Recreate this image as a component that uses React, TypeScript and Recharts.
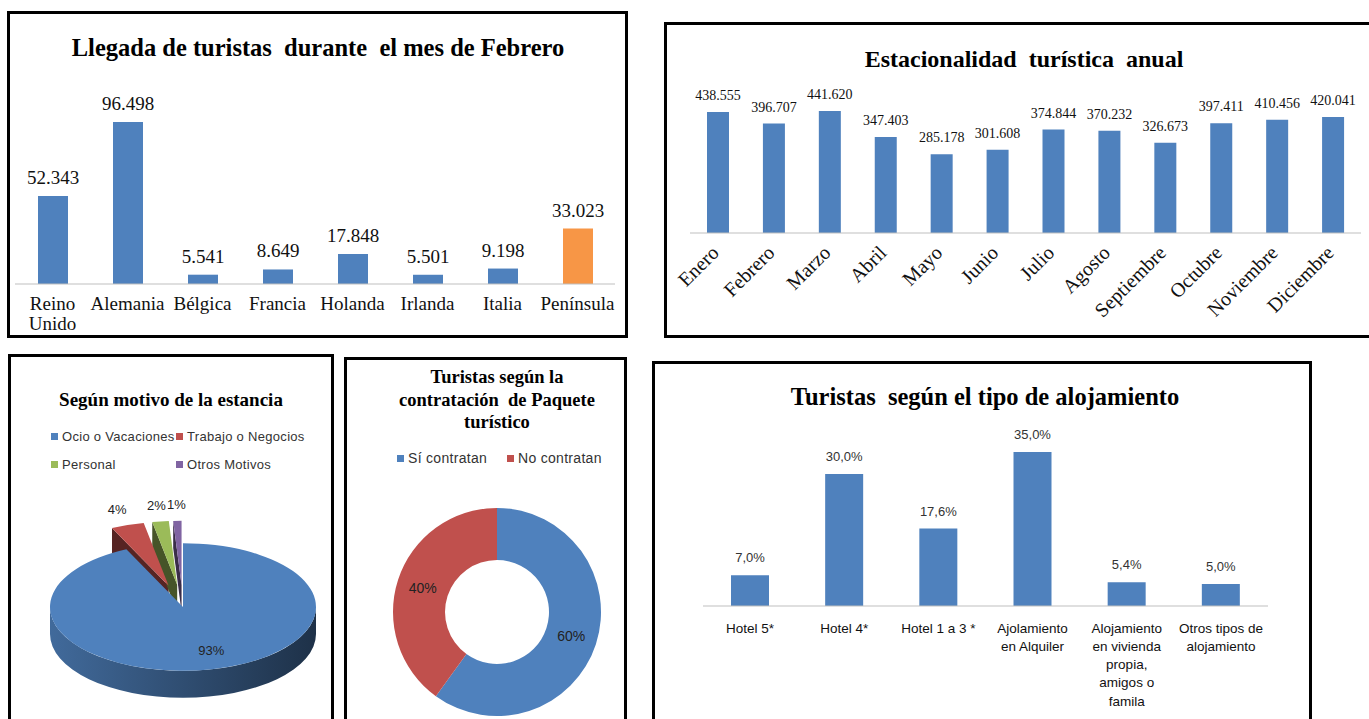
import React from 'react'
import { BarChart, Bar, XAxis, YAxis, Cell, LabelList, PieChart, Pie, Legend } from 'recharts'

// Llegada de turistas durante el mes de Febrero
const febCountries = ['Reino Unido', 'Alemania', 'Bélgica', 'Francia', 'Holanda', 'Irlanda', 'Italia', 'Península']
const febArrivals = [52343, 96498, 5541, 8649, 17848, 5501, 9198, 33023]
const highlighted = 'Península'

// Estacionalidad turística anual
const months = ['Enero', 'Febrero', 'Marzo', 'Abril', 'Mayo', 'Junio', 'Julio', 'Agosto', 'Septiembre', 'Octubre', 'Noviembre', 'Diciembre']
const monthlyArrivals = [438555, 396707, 441620, 347403, 285178, 301608, 374844, 370232, 326673, 397411, 410456, 420041]

// Según motivo de la estancia
const reasons = ['Ocio o Vacaciones', 'Trabajo o Negocios', 'Personal', 'Otros Motivos']
const reasonShare = [93, 4, 2, 1]

// Contratación de paquete turístico
const packageOptions = ['Sí contratan', 'No contratan']
const packageShare = [60, 40]

// Tipo de alojamiento
const lodgingTypes = ['Hotel 5*', 'Hotel 4*', 'Hotel 1 a 3 *', 'Ajolamiento en Alquiler', 'Alojamiento en vivienda propia, amigos o famila', 'Otros tipos de alojamiento']
const lodgingShare = [7.0, 30.0, 17.6, 35.0, 5.4, 5.0]

const BLUE = '#4f81bd'
const ORANGE = '#f79646'
const RED = '#c0504d'
const GREEN = '#9bbb59'
const PURPLE = '#8064a2'
const reasonColors = [BLUE, RED, GREEN, PURPLE]
const packageColors = [BLUE, RED]

const SERIF = '"Liberation Serif", "Times New Roman", serif'
const SANS = '"Liberation Sans", Arial, sans-serif'
const AXIS = '#bfbfbf'
const NO_MARGIN = { top: 0, right: 0, bottom: 0, left: 0 }

const febData = febCountries.map((country, i) => ({ country, arrivals: febArrivals[i] }))
const monthData = months.map((month, i) => ({ month, arrivals: monthlyArrivals[i] }))
const reasonData = reasons.map((name, i) => ({ name, value: reasonShare[i] }))
const packageData = packageOptions.map((name, i) => ({ name, value: packageShare[i] }))
const lodgingData = lodgingTypes.map((type, i) => ({ type, share: lodgingShare[i] }))

const fmtThousands = (v: any) => String(v).replace(/\B(?=(\d{3})+(?!\d))/g, '.')
const fmtPct = (v: any) => Number(v).toFixed(1).replace('.', ',') + '%'

const RAD = Math.PI / 180
const TILT = 0.48
const DEPTH = 27
const EXPLODE = 0.35

let measureCtx: CanvasRenderingContext2D | null = null
function wrapWords(text: string, maxWidth: number, font: string) {
  if (!measureCtx) measureCtx = document.createElement('canvas').getContext('2d')
  const ctx = measureCtx!
  ctx.font = font
  const lines: string[] = []
  let line = ''
  for (const word of text.split(' ')) {
    const next = line ? line + ' ' + word : word
    if (line && ctx.measureText(next).width > maxWidth) {
      lines.push(line)
      line = word
    } else {
      line = next
    }
  }
  if (line) lines.push(line)
  return lines
}

function WrapTick(props: any) {
  const { x, y, payload, w, fs, lh, ff, dy } = props
  const lines = wrapWords(String(payload.value), w, `${fs}px ${ff}`)
  return (
    <text x={x} y={y + dy} textAnchor="middle" fontSize={fs} fontFamily={ff} fill="#111">
      {lines.map((l, i) => (
        <tspan key={i} x={x} dy={i === 0 ? '0.71em' : lh}>{l}</tspan>
      ))}
    </text>
  )
}

function MonthTick(props: any) {
  const { x, y, payload } = props
  const ax = x + 2
  const ay = y + 13
  return (
    <text x={ax} y={ay} transform={`rotate(-45, ${ax}, ${ay})`} textAnchor="end"
      fontSize={20} fontFamily={SERIF} fill="#111">
      {payload.value}
    </text>
  )
}

const darken = (hex: string, k: number) => {
  const n = parseInt(hex.slice(1), 16)
  const r = (n >> 16) & 255, g = (n >> 8) & 255, b = n & 255
  return `rgb(${Math.round(r * k)},${Math.round(g * k)},${Math.round(b * k)})`
}

function sliceGeom(props: any) {
  const { cx, cy, outerRadius, midAngle, index } = props
  const rx = outerRadius
  const ry = outerRadius * TILT
  const ox = index > 0 ? EXPLODE * rx * Math.cos(midAngle * RAD) : 0
  const oy = index > 0 ? -EXPLODE * ry * Math.sin(midAngle * RAD) : 0
  const pt = (a: number, d = 0) => [cx + ox + rx * Math.cos(a * RAD), cy + oy - ry * Math.sin(a * RAD) + d]
  return { rx, ry, c: [cx + ox, cy + oy], pt }
}

// side walls of the tilted pie (drawn under the tops)
function PieSide(props: any) {
  const { startAngle, endAngle, fill, index, cx, outerRadius } = props
  const { rx, ry, c, pt } = sliceGeom(props)
  const lo = Math.min(startAngle, endAngle)
  const hi = Math.max(startAngle, endAngle)
  const parts: string[] = []
  for (let k = -2; k <= 2; k++) {
    const a0 = Math.max(lo, -180 + 360 * k)
    const a1 = Math.min(hi, 360 * k)
    if (a1 - a0 > 0.01) {
      parts.push(`M${pt(a1)} A${rx} ${ry} 0 0 1 ${pt(a0)} L${pt(a0, DEPTH)} A${rx} ${ry} 0 0 0 ${pt(a1, DEPTH)} Z`)
    }
  }
  const walls: string[] = []
  if (Math.cos(hi * RAD) < 0) walls.push(`M${c} L${pt(hi)} L${pt(hi, DEPTH)} L${c[0]},${c[1] + DEPTH} Z`)
  if (Math.cos(lo * RAD) > 0) walls.push(`M${c} L${pt(lo)} L${pt(lo, DEPTH)} L${c[0]},${c[1] + DEPTH} Z`)
  const gid = `pie-side-${index}`
  return (
    <g>
      <defs>
        <linearGradient id={gid} gradientUnits="userSpaceOnUse" x1={cx - outerRadius} y1={0} x2={cx + outerRadius} y2={0}>
          <stop offset="0%" stopColor={darken(fill, 0.82)} />
          <stop offset="100%" stopColor={darken(fill, 0.38)} />
        </linearGradient>
      </defs>
      {walls.map((d, i) => <path key={'w' + i} d={d} fill={darken(fill, 0.45)} />)}
      {parts.map((d, i) => <path key={'s' + i} d={d} fill={`url(#${gid})`} />)}
    </g>
  )
}

function PieTop(props: any) {
  const { startAngle, endAngle, fill } = props
  const { rx, ry, c, pt } = sliceGeom(props)
  const large = Math.abs(startAngle - endAngle) > 180 ? 1 : 0
  const sweep = startAngle > endAngle ? 1 : 0
  const d = `M${c} L${pt(startAngle)} A${rx} ${ry} 0 ${large} ${sweep} ${pt(endAngle)} Z`
  return <path d={d} fill={fill} />
}

function tiltedLabel(props: any) {
  const { cx, cy, midAngle, outerRadius, percent } = props
  const big = percent > 0.5
  const f = big ? 0.7 : 1.6
  const x = cx + f * outerRadius * Math.cos(midAngle * RAD) + (big ? 8 : 0)
  const y = cy - f * outerRadius * TILT * Math.sin(midAngle * RAD)
  return (
    <text x={x} y={y} textAnchor="middle" dominantBaseline="central" fontSize={13} fontFamily={SANS} fill="#222">
      {`${Math.round(percent * 100)}%`}
    </text>
  )
}

function donutLabel(props: any) {
  const { cx, cy, midAngle, innerRadius, outerRadius, percent } = props
  const r = (innerRadius + outerRadius) / 2
  const x = cx + r * Math.cos(midAngle * RAD)
  const y = cy - r * Math.sin(midAngle * RAD)
  return (
    <text x={x} y={y} textAnchor="middle" dominantBaseline="central" fontSize={14} fontFamily={SANS} fill="#222">
      {`${Math.round(percent * 100)}%`}
    </text>
  )
}

function GridLegend({ payload, cols, rowHeight, fontSize, order }: any) {
  const items = (payload || [])
    .filter((e: any) => e.type !== 'none')
    .slice()
    .sort((a: any, b: any) => order.indexOf(a.value) - order.indexOf(b.value))
  return (
    <div style={{ display: 'flex', flexWrap: 'wrap', width: cols.reduce((a: number, b: number) => a + b, 0) }}>
      {items.map((e: any, i: number) => (
        <div key={e.value} style={{ width: cols[i % cols.length], height: rowHeight, display: 'flex', alignItems: 'center', fontFamily: SANS, fontSize, color: '#333', letterSpacing: 0.3, whiteSpace: 'nowrap' }}>
          <span style={{ display: 'inline-block', width: 7, height: 7, background: e.color, marginRight: 4 }} />
          {e.value}
        </div>
      ))}
    </div>
  )
}

function Frame({ left, top, width, height }: any) {
  return <div style={{ position: 'absolute', left, top, width, height, border: '3px solid #000', boxSizing: 'border-box' }} />
}

function Title({ left, top, width, size, children }: any) {
  return (
    <div style={{ position: 'absolute', left, top, width, textAlign: 'center', fontFamily: SERIF, fontWeight: 700, fontSize: size, lineHeight: `${Math.round(size * 1.3)}px`, color: '#000' }}>
      {children}
    </div>
  )
}

export default function App() {
  return (
    <div style={{ position: 'absolute', left: 0, top: 0, width: 1369, height: 719, overflow: 'hidden', background: '#fff' }}>
      <Frame left={7} top={11} width={621} height={327} />
      <Frame left={664} top={22} width={720} height={316} />
      <Frame left={8} top={354} width={326} height={380} />
      <Frame left={344} top={357} width={283} height={380} />
      <Frame left={652} top={361} width={660} height={380} />

      <Title left={8} top={32} width={620} size={24.5}>Llegada de turistas&nbsp; durante&nbsp; el mes de Febrero</Title>
      <Title left={665} top={44} width={718} size={24}>Estacionalidad&nbsp; turística&nbsp; anual</Title>
      <Title left={8} top={387} width={326} size={19}>Según motivo de la estancia</Title>
      <div style={{ position: 'absolute', left: 355, top: 366, width: 284, textAlign: 'center', fontFamily: SERIF, fontWeight: 700, fontSize: 18.5, lineHeight: '22.5px' }}>
        Turistas según la<br />contratación&nbsp; de Paquete<br />turístico
      </div>
      <Title left={653} top={381} width={664} size={24.5}>Turistas&nbsp; según el tipo de alojamiento</Title>

      {/* Llegada de turistas en Febrero */}
      <div style={{ position: 'absolute', left: 8, top: 11 }}>
        <BarChart width={620} height={327} data={febData} margin={{ top: 105, right: 13, bottom: 0, left: 7 }}>
          <XAxis dataKey="country" height={54} interval={0} axisLine={{ stroke: AXIS }} tickLine={false}
            tick={(p: any) => <WrapTick {...p} w={75} fs={19} lh={20} ff={SERIF} dy={5} />} />
          <YAxis hide domain={[0, 100000]} />
          <Bar dataKey="arrivals" barSize={30} isAnimationActive={false}>
            {febData.map((d) => <Cell key={d.country} fill={d.country === highlighted ? ORANGE : BLUE} />)}
            <LabelList dataKey="arrivals" position="top" offset={12} formatter={fmtThousands}
              fontSize={19} fontFamily={SERIF} fill="#111" />
          </Bar>
        </BarChart>
      </div>

      {/* Estacionalidad anual */}
      <div style={{ position: 'absolute', left: 665, top: 23 }}>
        <BarChart width={704} height={314} data={monthData} margin={{ top: 72, right: 8, bottom: 0, left: 25 }}>
          <XAxis dataKey="month" height={104} interval={0} axisLine={{ stroke: AXIS }} tickLine={false} tick={<MonthTick />} />
          <YAxis hide domain={[0, 500000]} />
          <Bar dataKey="arrivals" barSize={22} fill={BLUE} isAnimationActive={false}>
            <LabelList dataKey="arrivals" position="top" offset={12} formatter={fmtThousands}
              fontSize={14} fontFamily={SERIF} fill="#111" />
          </Bar>
        </BarChart>
      </div>

      {/* Motivo de la estancia */}
      <div style={{ position: 'absolute', left: 8, top: 355 }}>
        <PieChart width={326} height={364} margin={NO_MARGIN}>
          <Legend content={<GridLegend cols={[125, 160]} rowHeight={28} fontSize={13} order={reasons} />}
            wrapperStyle={{ left: 43, top: 67, width: 290 }} />
          <Pie data={reasonData} dataKey="value" nameKey="name" cx={175} cy={252} outerRadius={133}
            startAngle={90} endAngle={-270} stroke="none" legendType="none" shape={PieSide}
            isAnimationActive={false}>
            {reasonData.map((d, i) => <Cell key={d.name} fill={reasonColors[i]} />)}
          </Pie>
          <Pie data={reasonData} dataKey="value" nameKey="name" cx={175} cy={252} outerRadius={133}
            startAngle={90} endAngle={-270} stroke="none" shape={PieTop} label={tiltedLabel} labelLine={false}
            isAnimationActive={false}>
            {reasonData.map((d, i) => <Cell key={d.name} fill={reasonColors[i]} />)}
          </Pie>
        </PieChart>
      </div>

      {/* Paquete turístico */}
      <div style={{ position: 'absolute', left: 345, top: 358 }}>
        <PieChart width={280} height={361} margin={NO_MARGIN}>
          <Legend content={<GridLegend cols={[110, 130]} rowHeight={20} fontSize={14} order={packageOptions} />}
            wrapperStyle={{ left: 52, top: 90, width: 240 }} />
          <Pie data={packageData} dataKey="value" nameKey="name" cx={152} cy={254} innerRadius={52} outerRadius={104}
            startAngle={90} endAngle={-270} stroke="none" label={donutLabel} labelLine={false}
            isAnimationActive={false}>
            {packageData.map((d, i) => <Cell key={d.name} fill={packageColors[i]} />)}
          </Pie>
        </PieChart>
      </div>

      {/* Tipo de alojamiento */}
      <div style={{ position: 'absolute', left: 653, top: 362 }}>
        <BarChart width={658} height={357} data={lodgingData} margin={{ top: 68, right: 43, bottom: 0, left: 50 }}>
          <XAxis dataKey="type" height={113} interval={0} axisLine={{ stroke: AXIS }} tickLine={false}
            tick={(p: any) => <WrapTick {...p} w={86} fs={13.5} lh={18.3} ff={SANS} dy={9} />} />
          <YAxis hide domain={[0, 40]} />
          <Bar dataKey="share" barSize={38} fill={BLUE} isAnimationActive={false}>
            <LabelList dataKey="share" position="top" offset={13} formatter={fmtPct}
              fontSize={13} fontFamily={SANS} fill="#333" />
          </Bar>
        </BarChart>
      </div>
    </div>
  )
}
